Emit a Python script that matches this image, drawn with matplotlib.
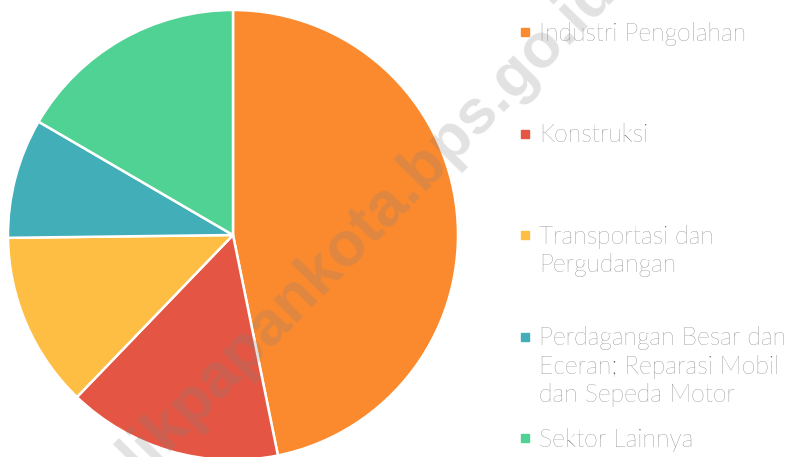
import matplotlib.pyplot as plt
from matplotlib.patches import Rectangle

# sector shares (%)
sectors = ['Industri Pengolahan', 'Konstruksi', 'Transportasi dan\nPergudangan',
           'Perdagangan Besar dan\nEceran; Reparasi Mobil\ndan Sepeda Motor',
           'Sektor Lainnya']
shares = [46.8, 15.4, 12.6, 8.6, 16.6]
colors = ['#FB8A2E', '#E45643', '#FEBE43', '#42AEB8', '#4FD293']

W, H = 791, 457
fig = plt.figure(figsize=(W / 100, H / 100), dpi=100)

# pie: centre (233, 235) px, radius 225 px
cx, cy, r = 233, 235, 225
ax = fig.add_axes([(cx - r) / W, (H - cy - r) / H, 2 * r / W, 2 * r / H])
ax.pie(shares, colors=colors, startangle=90, counterclock=False, radius=1,
       wedgeprops=dict(edgecolor='white', linewidth=1.8))
ax.set_xlim(-1, 1)
ax.set_ylim(-1, 1)
ax.set_aspect('equal')
ax.axis('off')

# legend drawn by hand, entries evenly spaced
font = ['Lato', 'DejaVu Sans']
y0, step = 22, 101.5
for i, (lab, col) in enumerate(zip(sectors, colors)):
    ytop = y0 + i * step
    fig.patches.append(Rectangle((521 / W, 1 - (ytop + 14) / H), 8 / W, 8 / H,
                                 transform=fig.transFigure, color=col))
    fig.text(539 / W, 1 - ytop / H, lab, ha='left', va='top', fontsize=17.8,
             family=font, fontweight='light', color='#585858', linespacing=1.23)

# watermark, runs off the bottom and top edges like in the original
fig.text(92 / W, 1 - 528 / H, 'balikpapankota.bps.go.id', rotation=45.5,
         rotation_mode='anchor', ha='left', va='baseline', fontsize=45,
         fontweight='bold', family=['Liberation Sans', 'DejaVu Sans'],
         color='#808080', alpha=0.23, zorder=10)

fig.savefig('out.png', dpi=100)
